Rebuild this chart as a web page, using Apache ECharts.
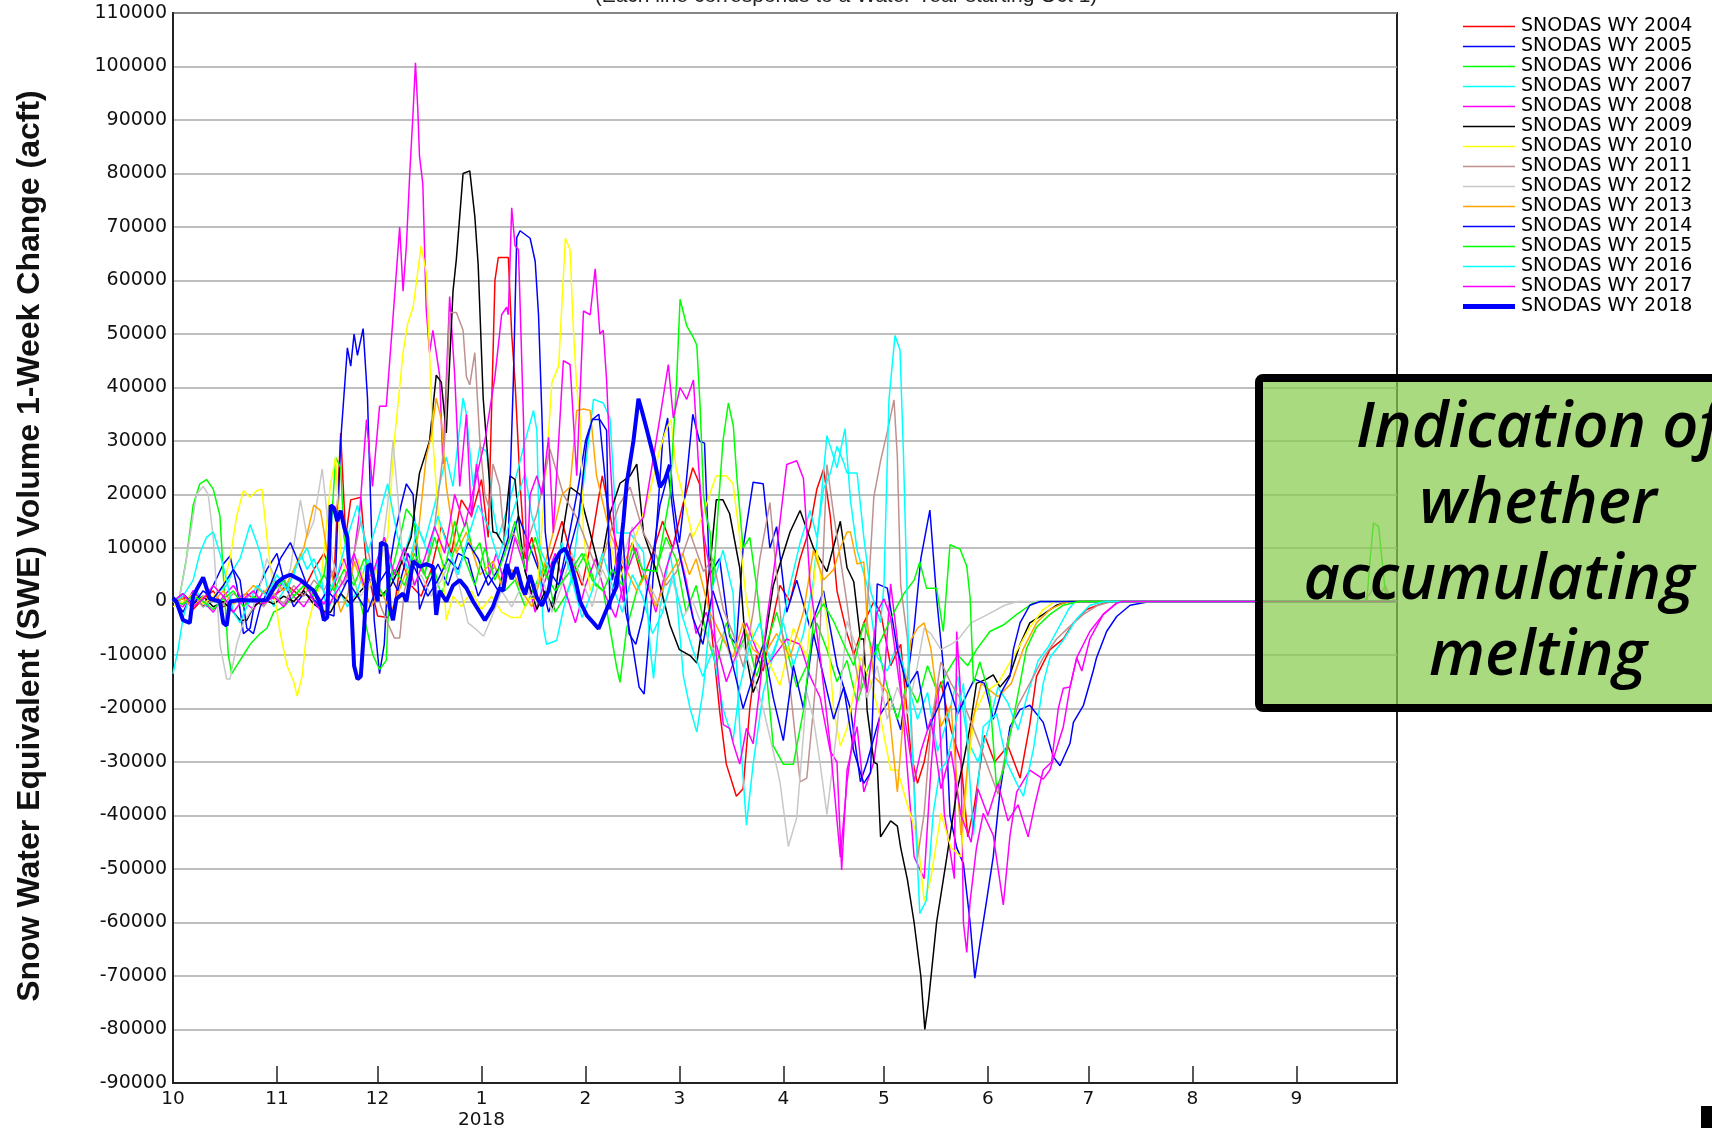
<!DOCTYPE html>
<html><head><meta charset="utf-8">
<script src="https://cdn.jsdelivr.net/npm/echarts@6/dist/echarts.min.js"></script>
<style>html,body{margin:0;padding:0;background:#fff;}#chart{width:1712px;height:1128px;}</style>
</head><body><div id="chart"></div>
<script>
// Each point: [day of water year (0 = Oct 1), 1-week SWE volume change in acft]
const wy2004 = [[0,0],[3,1000],[6,-1500],[9,500],[12,2000],[15,-1000],[18,0],[22,1500],[26,-500],[30,1000],[34,3000],[38,1000],[42,6000],[45,9000],[48,4000],[50,31500],[51.5,12000],[53,19000],[56,19500],[57.5,8000],[59,3000],[61,-2700],[64,-3000],[66,-1000],[68,8000],[71,3000],[74,1000],[77,6000],[80,14000],[83,9000],[86,19000],[89,16000],[92,22800],[94,12000],[96,60000],[97,64300],[100,64300],[101,50000],[102,41000],[103.5,22000],[105,8000],[107,12000],[110,4000],[113,9000],[116,15000],[119,8000],[122,3000],[125,12000],[128,23500],[131,14000],[134,6000],[137,11000],[140,4000],[143,9000],[146,15000],[149,10000],[152,18000],[155,25000],[157,22000],[159,5000],[161,-8000],[163,-20400],[165,-30400],[168,-36400],[170,-35000],[172,-20000],[174,-10000],[176,-13000],[178,-6000],[181,3000],[184,0],[187,8000],[190,14000],[192,21000],[194,24700],[196,16000],[198,2000],[201,-6000],[203,-10000],[206,-4000],[209,0],[211,-2000],[214,-12000],[217,-8000],[220,-28000],[222,-34000],[224,-30000],[227,-20000],[229,-15000],[232,-24000],[235,-30000],[237,-44000],[239,-38000],[242,-25000],[245,-30000],[249,-27000],[252.6,-33000],[255.5,-23000],[257.5,-14000],[261.5,-9000],[265.5,-7000],[268.5,-4000],[272.4,-1500],[277.4,-300],[280,0],[365,0]];
const wy2005 = [[0,1000],[3,-2000],[6,2000],[9,-1000],[12,3000],[15,7000],[17,8500],[19,3000],[21,-6000],[23,-5000],[25,2000],[28,6000],[31,9000],[33,4000],[36,-1000],[39,1500],[42,500],[45,-2000],[48,-2700],[50,30000],[52,47400],[53,44000],[54,50000],[55,46000],[56.7,51000],[58,38000],[59,17300],[60,-3500],[61.6,-13500],[63,-8000],[64,4000],[66,12000],[68,18000],[69.6,22000],[71.6,20000],[73.5,-1500],[76,3000],[79,7000],[82,3000],[85,9000],[88,8000],[91,1000],[94,5000],[97,2000],[100,9000],[103,16000],[106,11000],[109,6000],[112,-2000],[115,3000],[118,12000],[121,22000],[123,30000],[125,34000],[127,35000],[129,22000],[131,4000],[133,10000],[135,-2000],[137,-8000],[139,-16000],[140.5,-17300],[142,-6000],[144,12000],[146,30000],[147.5,34300],[149,20000],[151,11000],[153,22000],[155,35000],[157,30000],[158.5,29600],[160,5000],[163,8000],[166,-6500],[168,-8000],[170,10000],[173,22300],[176,22000],[178,10000],[180,14000],[183,-2000],[186,4000],[190,-5000],[194,2000],[198,-12000],[202,-20000],[205,-33700],[207,-30000],[211,-21000],[214,-18000],[217,-24000],[221,-5000],[223,8000],[225.7,17100],[227.7,700],[229.7,-12000],[231.7,-40000],[233.7,-46000],[235.7,-49000],[237.7,-60000],[239.1,-70400],[240.6,-64000],[242.6,-56000],[244.6,-47700],[246.6,-35600],[249.6,-23400],[252.6,-20200],[255.5,-19400],[259.5,-22600],[262.5,-29000],[264.5,-30700],[267.5,-26500],[268.5,-22600],[271.5,-19400],[274.4,-13000],[275.4,-10500],[278.4,-5600],[281.4,-2800],[285.4,-700],[291.3,0],[365,0]];
const wy2006 = [[0,0],[2,1000],[4,8000],[6,18000],[8,22000],[10,22800],[12,21000],[14,16000],[15,5000],[16.5,-10000],[17.5,-13500],[19,-12000],[21,-10000],[23,-8000],[26,-6000],[28,-5000],[30,-2000],[33,-1000],[36,1000],[39,3000],[42,2000],[45,5000],[47,12000],[48.5,27000],[50,25000],[51,12000],[53,6000],[55,2000],[57,-3000],[59.6,-10000],[61.6,-12700],[63.6,-11000],[64.6,4000],[66.6,9000],[69.6,17300],[71.6,15600],[73.5,8000],[75.5,4300],[78,6000],[80,1000],[83.5,9000],[85.5,12000],[87.5,15000],[89.5,9000],[91.5,11000],[93.5,5000],[96,6500],[99,2000],[102,4000],[105,-1000],[108,3000],[111,7000],[114,-2000],[117,1000],[120,5600],[123,9000],[126,3000],[128.3,2000],[130.3,-5000],[132.3,-12300],[133.3,-15100],[135.3,-5000],[138.3,2000],[141,6000],[144,5600],[147,12000],[150,8000],[153,-2000],[156,3000],[159,-6000],[162,-12000],[165,-4000],[168,-10000],[171,-6000],[174,-14000],[177,-8000],[180,-2000],[183,-9000],[186,-16000],[189,-12000],[192,-4000],[195,-9000],[198,-15000],[201,-11000],[204,-19000],[207,-13000],[210,-8000],[213,-16000],[216,-22000],[219,-15000],[222,-19000],[225,-12000],[228,-17000],[231,-13000],[234,-10000],[237,-12000],[239.6,-9000],[243.6,-5600],[247.6,-4400],[251.6,-2400],[255.5,-700],[257.5,0],[365,0]];
const wy2007 = [[0,-13500],[1.5,-9000],[3,-3000],[4.5,0],[7,2000],[10,-1000],[13,1500],[16,3000],[18,6000],[20,8000],[23,14400],[25,11000],[26,9000],[28,3000],[30,-1000],[33,2000],[36,5000],[38,9000],[40,6000],[42,8000],[44,5000],[46,-2000],[49,3000],[52,-1000],[55,2000],[58,8000],[60,5000],[63,12000],[66,4000],[69,9000],[72,15000],[75,11000],[78,18000],[81.5,27000],[83.5,21500],[86.5,38000],[87.5,35000],[89.5,21500],[91.5,29000],[93.5,28000],[95.4,17300],[97,12000],[100,18000],[103,25000],[105,30000],[107.5,35700],[108.5,32000],[109.5,5000],[110.5,-5100],[111.4,-8000],[114.4,-7300],[116.4,-1500],[119,5000],[122,20000],[125.4,37800],[128.3,37100],[130.3,34300],[132.3,12800],[136.3,12800],[140.3,9200],[142.3,-8700],[143.3,-14400],[145.2,-1500],[148.2,9200],[150,2000],[152.2,-14000],[154.2,-20000],[156.2,-24400],[158.2,-16000],[161,3000],[164,9600],[167,1600],[169,-23700],[171,-41800],[173,-30400],[176,-17000],[179,-10000],[182,-4000],[185,-12000],[188,-6000],[191,4000],[195,31000],[198,25000],[200.4,32300],[202,19000],[204,9600],[207,3000],[210,-10400],[213,-13000],[216,-8000],[219,-15000],[222,-22000],[225,-17000],[228,-28000],[231,-22000],[234,-14000],[237,-26000],[240,-30000],[243,-24000],[246,-16000],[249,-19000],[252,-24000],[255,-17000],[258,-11000],[261,-8500],[264,-5000],[267,-1500],[269,0],[365,0]];
const wy2008 = [[0,0],[3,-1000],[6,2000],[9,0],[12,-2000],[15,1000],[18,3000],[21,0],[24,-1500],[27,2000],[30,500],[33,4000],[36,1000],[39,-1000],[42,2000],[45,-500],[48,3000],[51,8000],[53,4000],[55.7,17000],[57.7,34000],[59.5,21500],[61.6,36500],[63.6,36500],[65.6,53000],[67.6,70000],[68.6,58000],[69.6,66500],[70.6,80000],[71.6,91500],[72.3,100700],[73,92000],[73.5,83300],[74.5,78000],[75.5,54800],[76.5,46500],[77.5,50700],[78.5,46500],[79.5,42300],[80.5,25700],[82.5,57000],[84,42300],[85.5,21500],[87.5,35000],[89,15700],[90.5,25700],[92.5,15000],[94.4,4900],[96.4,9000],[99,3000],[102,12000],[105,6000],[108,-2000],[111,4000],[114,9000],[117,2000],[120,-4000],[123,3000],[126,8000],[129,1000],[132,-3000],[135,5000],[138,10000],[141,4000],[144,-2000],[147,6000],[150,12000],[153,4000],[156,-6000],[159,-2000],[162,-8000],[165,-15000],[168,-10000],[171,-4000],[174,-9000],[177,-12000],[179,-10400],[183,-7000],[187,-8000],[190,-14000],[193,-18000],[196,-28000],[198,-30000],[199.4,-50200],[201,-31500],[204,-23400],[206,-35600],[209,-30000],[212,-15300],[214,3300],[216,-7200],[219,-31500],[221,-47700],[224,-51800],[226,-31500],[228,-15300],[230,-39600],[233,-51800],[233.7,-5600],[234.7,-15300],[235.7,-60000],[236.7,-65600],[237.7,-56000],[239.6,-46000],[241.6,-39600],[244.6,-43700],[247.6,-56700],[249.6,-43700],[251.6,-35600],[255.5,-31500],[259.5,-33200],[261.5,-31500],[265.5,-23400],[267.5,-16000],[269.5,-10500],[273.4,-5600],[277.4,-2400],[281.4,-300],[283,0],[365,0]];
const wy2009 = [[0,0],[3,500],[6,-500],[9,1000],[12,-1000],[15,0],[18,-2000],[20,-3500],[22,-3500],[24,-1000],[27,500],[30,-500],[33,1000],[36,0],[39,2000],[42,-500],[45,-1800],[47,-2000],[50,1500],[53,-500],[56,2000],[59,4000],[62,1000],[65,3000],[68,7000],[71,12000],[73.5,24000],[76.5,30000],[78.5,42300],[80,41000],[81.5,31500],[83.5,58000],[84.5,64000],[86.5,80000],[88.5,80500],[90,72000],[91,63000],[92.5,38000],[94,25700],[95.4,13000],[96.5,12800],[98.5,10650],[100.5,23500],[102,22800],[103.5,12800],[105,5600],[108.5,-1500],[111,2000],[113.5,-1500],[116,12000],[118.4,21400],[121.4,20000],[124.4,12800],[127.3,5600],[130.3,16400],[133.3,22100],[136.3,23500],[138.3,25700],[140.3,12800],[144.2,5600],[148.2,-4400],[151,-9000],[154.2,-10100],[156.2,-11500],[158.2,-3000],[160.2,7000],[162,19000],[164,19000],[166,16400],[169,6300],[171,-10400],[173,-17000],[175,-13700],[179,3000],[184,13000],[187,17000],[191,10000],[195,5600],[199,15000],[201,6300],[203,3700],[205,-7000],[206,-7000],[207,-20400],[209,-30000],[210,-30400],[211,-44000],[214,-41000],[216,-42000],[217,-46000],[219,-52000],[221,-60000],[223,-70000],[224.2,-80000],[225.2,-75300],[227.7,-60000],[230.7,-48000],[233.7,-35600],[235.7,-30000],[237.7,-23400],[239.6,-15300],[242.6,-14500],[244.6,-13700],[246.6,-16000],[249.6,-13700],[252.6,-8000],[255.5,-4000],[259.5,-2400],[263.5,-700],[267,0],[365,0]];
const wy2010 = [[0,-1000],[3,0],[6,1500],[9,-500],[12,1000],[15,3000],[17,8000],[19,16000],[21,20700],[23,19500],[25,20700],[26.5,21000],[28,12000],[30,2000],[32,-6000],[34,-12000],[36,-15000],[37,-17700],[38.5,-14000],[40,-5000],[42,0],[44,3000],[47,22000],[48.5,27000],[50,9000],[52,4000],[55,8000],[58,2000],[61,6000],[64,12000],[66,30000],[68.6,46500],[70,52000],[71.6,55000],[74,66500],[75.5,61500],[76.5,46500],[77.5,30000],[79.5,13000],[81.5,-3500],[83.5,1000],[86,-1000],[89,2000],[92,-1500],[95,1000],[98,-2000],[101,-3000],[103.5,-3000],[106,500],[108.5,700],[111.5,27000],[113,41000],[115,44000],[117,67900],[118.4,65800],[119.4,50700],[120.4,40000],[121.4,34300],[122.4,12800],[124.4,2000],[127,6000],[130,12000],[133,4000],[136,9000],[139,14000],[142,20000],[145,28000],[147,32000],[148.5,34000],[150,25000],[152,20000],[155,12000],[158,16000],[160,20000],[162,23500],[165,23500],[167,22000],[169,12000],[171,0],[173,-7000],[177,-10400],[181,-15700],[185,-5000],[189,-10400],[192,9600],[195,-3700],[197,-20400],[199,-27000],[201,-23700],[205,-10400],[208,-15000],[211,-21800],[214,-31500],[216,-31500],[219,-38000],[222,-44000],[224,-56000],[226,-51800],[229,-39600],[232,-46000],[235,-47700],[237,-31500],[239,-21000],[242,-17000],[246,-15300],[249,-12000],[252,-8800],[255.5,-4800],[259.5,-1500],[263,0],[365,0]];
const wy2011 = [[0,0],[3,-500],[6,1000],[9,-1000],[12,500],[15,-500],[18,1500],[21,0],[24,2000],[27,-1000],[30,1500],[33,-500],[36,3000],[39,1000],[42,4000],[45,2000],[48,6000],[51,3000],[54,9000],[56,15000],[58,10000],[60,4000],[62,-1000],[64,-4000],[66,-6800],[67.6,-6800],[69,2000],[72,8000],[75,5000],[78,14000],[81,30000],[82.5,54000],[84.5,54000],[86.5,50700],[87.5,42000],[88.5,40500],[90,46500],[91.5,30000],[93,20000],[94.4,17300],[95.4,25700],[97.4,21500],[99,10000],[101.5,12800],[104.5,9200],[108.5,16400],[112.4,28500],[116.4,20000],[120.4,15700],[124.4,9200],[127,5000],[130.3,12800],[133,18000],[136.3,21400],[140.3,12800],[144.2,8500],[147,3000],[150.2,5600],[154.2,12800],[158.2,5600],[161,8000],[164.1,-1500],[167,-6000],[170.1,-12300],[173,-2000],[175,8000],[178,18500],[180,5000],[182,-8000],[184,-15900],[187,-33700],[189,-33000],[191,-20000],[193,-5000],[195,25600],[197,16300],[199,8000],[201,-400],[203,-10000],[205,-17000],[207,-2000],[209,19600],[211,26300],[213,31700],[215,37700],[216,27000],[217,3000],[219,-7000],[220,-20000],[222,-48000],[224,-39600],[226,-23400],[229,-11300],[232,-15300],[236,-19400],[241,-27500],[246,-36000],[249,-25900],[252,-19400],[255.5,-15300],[259.5,-10500],[263.5,-7000],[267.5,-4600],[271.5,-2400],[275.5,-800],[280,0],[355,0],[357,1500],[358.5,3500],[360,1200],[361.5,3000],[363,800],[365,0]];
const wy2012 = [[0,0],[2,1000],[3.5,6000],[5,12000],[7,20000],[9,21500],[10.5,20000],[12,12000],[14,-8000],[16,-14500],[17,-14500],[19,-8000],[21,-4000],[24,-1000],[26,3000],[28,8000],[30,5000],[32,2000],[35,6000],[38,19000],[40,12000],[42,15000],[44.5,24800],[46,16000],[47.5,8000],[50,3000],[53,5000],[56,1000],[59,4000],[62,8000],[64,18000],[65.6,30000],[67,20000],[68.5,8000],[71,3000],[74,5000],[77,1000],[80,4000],[83,8000],[85,4000],[88,-4000],[90,-5000],[92.6,-6500],[95,-3000],[98,2000],[101,-1000],[104,3000],[107,1000],[110,5000],[113,-2000],[116,3000],[119,9000],[122,4000],[125,-1000],[128,6000],[131,2000],[134,8000],[137,14000],[140,6000],[143,2000],[146,-2000],[149,4000],[152,-3000],[155,0],[158,-5000],[161,-9000],[164,-6000],[167,-12000],[170,-8000],[173,-14000],[176,-20000],[179,-28000],[181,-33700],[183.5,-45800],[186,-40400],[189,-17000],[191,-22000],[193,-30400],[195,-39800],[198,-23700],[201,-3700],[204,-9000],[207,-18000],[210,-12000],[213,-22000],[216,-16000],[219,-21000],[222,-12000],[224,-5000],[226,-6000],[229,-9000],[232,-8000],[234,-7200],[238,-4000],[243,-2400],[248,-700],[252,0],[365,0]];
const wy2013 = [[0,0],[3,500],[6,-1000],[9,1000],[12,0],[15,2000],[18,-500],[21,1000],[24,3000],[27,1500],[30,4000],[33,2000],[36,6000],[39,10000],[42,18000],[44,17000],[46,9200],[48,3000],[50,-2000],[52,1000],[54,7500],[56,4000],[59,-1000],[62,2000],[65,-2000],[68,3000],[71,8000],[73,12000],[75.5,27000],[77,31000],[78.5,38000],[80,34000],[81.5,21500],[84.5,9000],[87.5,13000],[91.5,5000],[95.4,7500],[98,3000],[101,6000],[104,2000],[107,-1000],[110,5000],[113,12000],[116,20000],[118.4,21400],[120.4,35700],[122.4,36000],[124.4,35700],[126.3,23500],[130.3,12800],[134.3,7000],[138.3,2000],[141,5000],[144,-1000],[147,4000],[150,7000],[152,9000],[154,5000],[156,8000],[160,-2000],[164,-7000],[167,-10400],[170,-4000],[173,-9000],[176,-10400],[180,-6000],[184,-10400],[188,-2000],[191,9600],[194,4000],[197,6000],[199,10000],[201,13000],[202,13000],[204,7000],[206,7400],[207,-3700],[209,-14000],[211,-15300],[213,-17000],[216,-35600],[218,-20000],[220,-7200],[222,-5000],[224,-4000],[226,-8800],[229,-23400],[232,-19400],[235,-43700],[238,-23400],[241,-15300],[246,-17800],[250,-15300],[253.6,-8800],[257.5,-4000],[261.5,-1500],[265.5,-300],[268,0],[365,0]];
const wy2014 = [[0,0],[3,1500],[6,-500],[9,2000],[12,500],[15,3000],[18,6000],[20,4000],[22,-5000],[24,-6000],[26,-1000],[29,3000],[32,8000],[35,11000],[37,8000],[40,3000],[43,-1000],[46,2000],[49,0],[52,4000],[55,1000],[58,-2000],[61,3000],[64,6000],[67,2000],[70,9000],[73,5000],[76,1000],[79,4000],[82,8000],[85,6000],[88,11000],[91,8000],[94,3000],[97,6000],[100,12000],[101.5,41400],[102.5,68000],[103.5,69300],[106.5,67900],[108,63600],[109,53600],[110,35000],[111,13000],[112.4,5600],[115,3000],[118,9000],[121,16000],[123.4,30000],[125,34000],[127.3,34000],[129.3,32000],[130.3,-1500],[132,5000],[134,14000],[136,-6000],[138,-8000],[140,-3000],[143,8000],[145.2,18000],[147.7,24000],[150,12000],[152,6000],[155,-3000],[158,-8000],[161,2000],[164,-4000],[167,-12000],[170,-20000],[173,-14000],[176,-8000],[179,-18000],[182,-26000],[185,-12000],[188,-20000],[191,-6000],[194,-14000],[197,-22000],[200,-16000],[203,-28000],[206,-34000],[208,-32000],[210,3300],[213,2500],[216,-9000],[219,-16000],[222,-13000],[225,-24000],[228,-20000],[231,-15000],[234,-21000],[237,-17000],[239,-14500],[242,-15300],[244.6,-22000],[247,-17000],[249.6,-14000],[250.6,-9000],[252.6,-4000],[255.5,-700],[258.6,0],[365,0]];
const wy2015 = [[0,0],[3,-500],[6,1000],[9,0],[12,-1500],[15,500],[18,2000],[21,-1000],[24,1000],[27,-500],[30,2000],[33,4000],[36,1000],[39,3000],[42,1000],[45,5000],[48,2000],[51,6000],[54,3000],[57,8000],[60,4000],[63,1000],[66,6000],[69,3000],[72,9000],[75,5000],[78,12000],[81,6000],[84,15000],[87,8000],[90,3000],[93,10000],[96,4000],[99,9000],[102,15000],[105,6000],[108,12000],[111,5000],[114,2000],[118.4,5600],[122,9000],[125,4000],[128.3,2000],[131,6000],[134,3000],[137,10000],[140,6000],[144.2,5600],[148.2,20000],[150.2,41400],[151.2,56500],[153.2,51500],[155.2,49300],[156.2,47900],[157.2,36300],[158.2,20000],[159,16000],[160.2,12800],[161,3000],[163.1,22100],[164,30000],[165.6,37100],[167.1,32800],[168.1,23500],[170,10000],[172,12000],[174,3000],[177,-13700],[179,-27000],[182,-30400],[185,-30400],[188,-20400],[191,-3700],[194,-400],[197,-3700],[200,-8000],[203,-12000],[206,-4000],[209,-10000],[212,-6000],[215,-2000],[218,1500],[221,4000],[222.7,7400],[224.7,2500],[227.7,2500],[229.7,-5600],[231.7,10600],[234.7,9800],[236.7,6600],[237.7,700],[238.7,-15300],[240.6,-11300],[243.6,-17800],[245.6,-35000],[247.6,-31500],[250.6,-21800],[252.6,-15300],[254.5,-8800],[257.5,-4800],[261.5,-2400],[265.5,-700],[270,0],[356,0],[357,8000],[358,14700],[359.5,14000],[360.5,8000],[361.5,2000],[362.5,0],[365,0]];
const wy2016 = [[0,0],[3,1000],[6,4000],[8,9000],[10,12000],[12,13000],[14,9000],[16,4000],[18,-2000],[20,-4000],[22,-1000],[25,3000],[28,1000],[31,5000],[34,2000],[37,7000],[40,10000],[43,4000],[46,1000],[49,5000],[52,12000],[55,18000],[58,9000],[61,15000],[64,22000],[67,12000],[70,6000],[73,14000],[76,9000],[79,16000],[82,10000],[85,5000],[88,12000],[91,18000],[94,14000],[97,8000],[100,14000],[103,20000],[105,24000],[107,16000],[110,9000],[113,5000],[116,11000],[119,4000],[122,-3000],[125,2000],[128,9000],[131,3000],[134,-2000],[137,5000],[140,1000],[143,-6000],[146,-2000],[149,5000],[152,-3000],[155,-9000],[158,-14000],[161,-9000],[164,-20000],[167,-26000],[169,-16000],[172,-8000],[175,-4000],[178,-11000],[181,-6000],[184,3000],[187,11000],[190,17000],[192,12000],[194,21000],[196,24000],[198,29000],[200,26000],[201,24000],[204,24000],[206,12000],[208,2000],[211,-4000],[212,3000],[213.5,37700],[215.3,49700],[216.8,47000],[217.8,28000],[218.8,4000],[219.8,-20000],[220.8,-33000],[222.7,-58300],[224.7,-55800],[226.7,-39600],[228.7,-31500],[230.7,-30000],[233.7,-21800],[235.7,-15300],[238.7,-43700],[241.6,-23400],[245.6,-21000],[248.6,-30000],[251.6,-34000],[253.6,-36400],[256.6,-27500],[259.5,-15300],[261.5,-10500],[265.5,-7200],[269.5,-3200],[273.4,-700],[278,0],[365,0]];
const wy2017 = [[0,0],[3,1500],[6,-1000],[9,500],[12,3000],[15,1000],[18,-2000],[21,500],[24,2000],[27,-500],[30,1000],[33,-1000],[36,2000],[39,4000],[42,0],[45,-2500],[48,1000],[51,4000],[54,9000],[57,3000],[60,6000],[63,12000],[66,5000],[69,10000],[72,3000],[75,8000],[78,14000],[81,9000],[84,20000],[87,14000],[90,22000],[93,30000],[96,42000],[98,53600],[99.5,55000],[100,53600],[101,73600],[102,66500],[103,65800],[103.5,55700],[104.5,34300],[105.5,5600],[106.5,20000],[108.5,23500],[110,20000],[112,30700],[113.4,12800],[116.4,45000],[118.4,44300],[120.4,23500],[122.4,54300],[124.4,53600],[125.9,62200],[127.3,50000],[128.3,50700],[129.3,41400],[130.3,27100],[132.3,5600],[134.3,-100],[136.3,12800],[140.3,15700],[143.3,27100],[145.2,34300],[147.7,44300],[149.2,34300],[151.2,40000],[153.2,37800],[155.2,41400],[156.7,25700],[158.2,12800],[160.2,5600],[162,-10000],[164.1,-23000],[166,-23700],[167.1,-26600],[169,-30400],[171,-23700],[173,-26600],[175,-16000],[177,-3700],[180,9600],[183,25600],[186,26300],[188,23000],[190,3000],[193,-10400],[196,-27000],[199,-47800],[201,-33700],[203,-24000],[205,-12000],[207,-17000],[210,-2000],[212,500],[214,-3000],[217,-17000],[219,-25000],[221,-33700],[223,-28000],[226,-22000],[229,-35000],[232,-28000],[235,-40000],[238,-45000],[240,-35000],[243,-40000],[246,-34000],[249,-41000],[252,-38000],[255,-44000],[257,-38000],[259.5,-31500],[262,-30000],[264,-20000],[265.5,-16200],[267.5,-16000],[269.5,-10500],[271,-13000],[273.4,-7000],[277.4,-2400],[281.4,-300],[283,0],[365,0]];
const wy2018 = [[0,600],[1,0],[3,-3500],[5,-4000],[6,1000],[9,4500],[11,500],[14,0],[15,-4000],[16,-4500],[17,0],[20,300],[24,200],[28,300],[31,3500],[33,4500],[35,5000],[38,4000],[40,3000],[42,2000],[44,-500],[45,-3500],[46,-3000],[47,18000],[48,17500],[49,15000],[50,17000],[51,14000],[52,12000],[53,1500],[54,-12000],[55,-14500],[56,-14000],[57,-5000],[58,6500],[59,7000],[61,0],[62,11000],[63.6,10500],[64.6,-1000],[65.6,-3500],[66.6,500],[68.6,1500],[69.6,0],[71.6,7500],[73.6,6500],[75.5,7000],[77.5,6500],[78.5,-2500],[79.5,2000],[81.5,0],[83.5,3000],[85.5,4000],[87.5,2500],[89.5,0],[91.5,-2000],[93,-3500],[95.4,-1000],[97.4,2500],[98.5,2000],[99.5,7000],[101,4200],[102.5,6400],[104,2800],[105,1300],[106.5,4900],[108.5,700],[110,-800],[112,2000],[113.4,7000],[115.4,9200],[116.9,9900],[118.4,7800],[119.9,4200],[121.4,0],[123.4,-2600],[125.4,-4000],[126.9,-5100],[128.3,-3000],[130.3,0],[132.3,2800],[133.3,9200],[134.3,14900],[135.3,22100],[137.3,30000],[138.8,37900],[139.8,35700],[141.3,32100],[143.3,27100],[145.2,21400],[146.7,22800],[148.2,25600]];

const seriesNames = ['SNODAS WY 2004','SNODAS WY 2005','SNODAS WY 2006','SNODAS WY 2007','SNODAS WY 2008','SNODAS WY 2009','SNODAS WY 2010','SNODAS WY 2011','SNODAS WY 2012','SNODAS WY 2013','SNODAS WY 2014','SNODAS WY 2015','SNODAS WY 2016','SNODAS WY 2017','SNODAS WY 2018'];
const seriesValues = [wy2004, wy2005, wy2006, wy2007, wy2008, wy2009, wy2010, wy2011, wy2012, wy2013, wy2014, wy2015, wy2016, wy2017, wy2018];
const seriesColors = ['#ff0000','#0000ff','#00ff00','#00ffff','#ff00ff','#000000','#ffff00','#c09090','#c8c8c8','#ffa500','#0000ff','#00ff00','#00ffff','#ff00ff','#0000ff'];

const WY_START = new Date(2017, 9, 1).getTime();
const WY_END = new Date(2018, 9, 1).getTime();
const DAY_MS = 86400000;
const toPoints = arr => arr.map(p => [WY_START + p[0] * DAY_MS, p[1]]);

const chart = echarts.init(document.getElementById('chart'), null, {renderer: 'canvas'});
const TICK_FONT = 'DejaVu Sans';
const THIN_ICON = 'path://M0,0L52,0L52,1.6L0,1.6Z';
const THICK_ICON = 'path://M0,0L52,0L52,5L0,5Z';

chart.setOption({
  animation: false,
  backgroundColor: '#ffffff',
  grid: {left: 173, top: 13, right: 315, bottom: 45, containLabel: false, outerBoundsMode: 'none',
         show: true, borderColor: '#222', borderWidth: 2, backgroundColor: '#fff'},
  legend: {
    orient: 'vertical', left: 1458, top: 12, itemWidth: 52, itemHeight: 14, itemGap: 1,
    itemSymbolKeepAspect: true, symbolKeepAspect: true,
    textStyle: {fontFamily: TICK_FONT, fontSize: 19, color: '#000', lineHeight: 19, padding: [0, 0, 0, 1]},
    data: seriesNames.map((n, i) => ({name: n, icon: i === 14 ? THICK_ICON : THIN_ICON}))
  },
  xAxis: {
    type: 'time', min: WY_START, max: WY_END, splitNumber: 12,
    minInterval: 28 * DAY_MS, maxInterval: 31 * DAY_MS,
    axisLine: {show: true, onZero: false, lineStyle: {color: '#222', width: 2}},
    axisTick: {show: true, inside: true, length: 17, lineStyle: {color: '#222', width: 1.5}},
    splitLine: {show: false},
    axisLabel: {
      showMaxLabel: false, margin: 6, color: '#111', fontFamily: TICK_FONT, fontSize: 18.5, lineHeight: 21,
      formatter: function (val) {
        if (val >= WY_END) return '';
        const d = new Date(val);
        const m = d.getMonth() + 1;
        return m === 1 ? '1\n' + d.getFullYear() : String(m);
      }
    }
  },
  yAxis: {
    type: 'value', min: -90000, max: 110000, interval: 10000,
    axisLine: {show: true, lineStyle: {color: '#222', width: 2}},
    axisTick: {show: false},
    splitLine: {show: true, lineStyle: {color: '#a8a8a8', width: 1.5}},
    axisLabel: {margin: 6, color: '#111', fontFamily: TICK_FONT, fontSize: 19, formatter: v => String(v)}
  },
  series: seriesValues.map((vals, i) => ({
    name: seriesNames[i], type: 'line', data: toPoints(vals), symbol: 'none',
    lineStyle: {width: i === 14 ? 4 : 1.5, color: seriesColors[i]},
    itemStyle: {color: seriesColors[i]},
    emphasis: {disabled: true}, z: 2 + i * 0.01
  })),
  graphic: [
    {type: 'text', x: 846, y: 7, silent: true,
     style: {text: '(Each line corresponds to a Water Year starting Oct 1)', textAlign: 'center', textVerticalAlign: 'bottom', font: '21px "Liberation Sans"', fill: '#222'}},
    {type: 'text', x: 30, y: 546, rotation: Math.PI / 2, silent: true,
     style: {text: 'Snow Water Equivalent (SWE) Volume 1-Week Change (acft)', textAlign: 'center', textVerticalAlign: 'middle', font: 'bold 32px "Liberation Sans"', fill: '#111'}},
    {type: 'rect', z: 100, silent: true, shape: {x: 1259, y: 378, width: 640, height: 330, r: 4},
     style: {fill: 'rgba(136,204,78,0.72)', stroke: '#000', lineWidth: 8}},
    {type: 'text', z: 101, x: 1538, y: 391, silent: true,
     style: {text: 'Indication of\nwhether\naccumulating or\nmelting', textAlign: 'center', textVerticalAlign: 'top', font: 'italic 600 63px "Open Sans"', lineHeight: 76, fill: '#000'}},
    {type: 'rect', z: 100, silent: true, shape: {x: 1701, y: 1106, width: 11, height: 22}, style: {fill: '#000'}}
  ]
});
</script>
</body></html>
